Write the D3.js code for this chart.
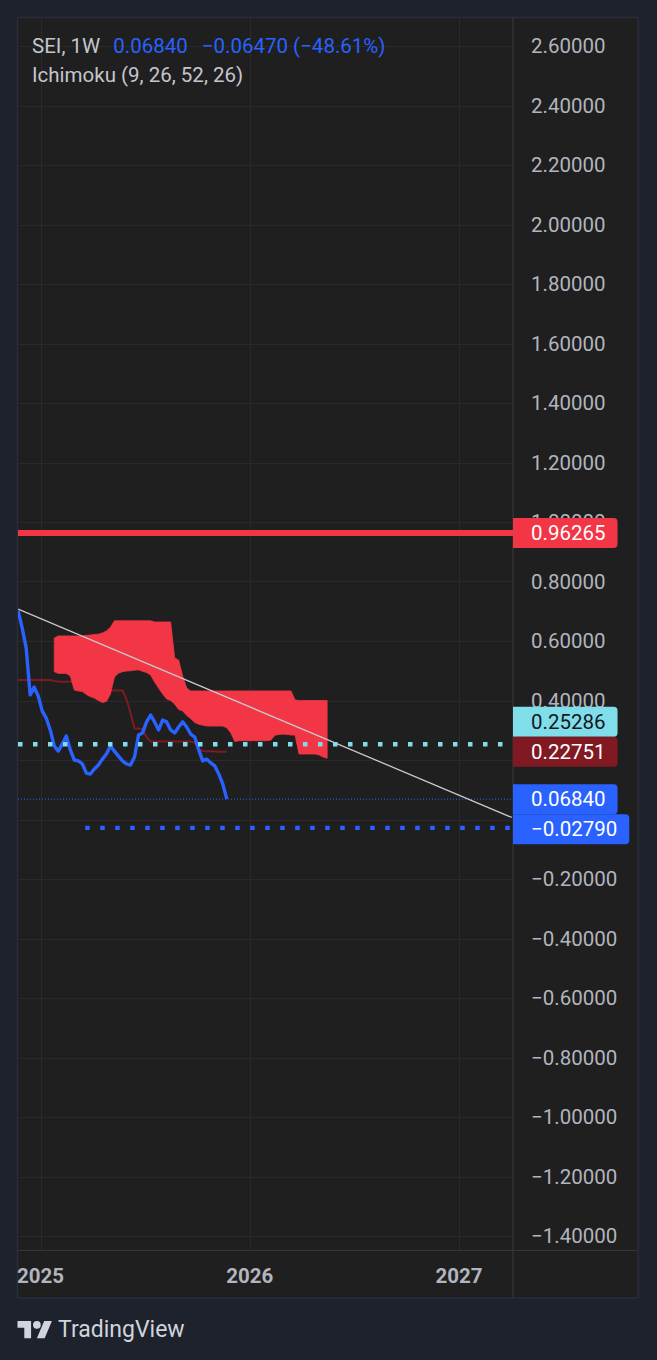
<!DOCTYPE html>
<html><head><meta charset="utf-8">
<script src="https://cdn.jsdelivr.net/npm/d3@7"></script>
<style>
html,body{margin:0;padding:0;background:#1e222d;}
svg{display:block;font-family:Roboto,"Noto Sans",sans-serif;}
</style>
</head><body>
<svg id="c" width="657" height="1360"></svg>
<script>
// ---------- DATA ----------
const startDate = "2024-11-23";           // first weekly bar
const priceValues = [0.701,0.644,0.577,0.419,0.445,0.415,0.365,0.341,0.301,0.247,
  0.230,0.254,0.281,0.234,0.200,0.197,0.187,0.156,0.153,0.170,
  0.183,0.203,0.220,0.247,0.230,0.213,0.197,0.187,0.183,0.210,
  0.284,0.291,0.328,0.351,0.328,0.301,0.334,0.328,0.301,0.291,
  0.311,0.328,0.311,0.287,0.277,0.234,0.197,0.203,0.190,0.180,
  0.153,0.119,0.0684];
const kijunValues = [0.469,0.469,0.469,0.469,0.469,0.469,0.469,0.469,0.469,0.466,
  0.463,0.463,0.463,0.463,0.463,0.463,0.463,0.463,0.463,0.463,
  0.463,0.434,0.434,0.434,0.434,0.434,0.434,0.405,0.358,0.306,
  0.306,0.304,0.277,0.262,0.262,0.262,0.262,0.262,0.262,0.262,
  0.262,0.262,0.262,0.262,0.258,0.2375,0.230,0.229,0.229,0.2285,
  0.228,0.228,0.22751];
const cloudStartWeek = 9;
const cloudTop = [0.610,0.617,0.617,0.617,0.617,0.617,0.617,0.617,0.619,0.620,
  0.622,0.623,0.627,0.634,0.646,0.668,0.668,0.668,0.668,0.668,
  0.668,0.668,0.668,0.668,0.668,0.664,0.664,0.664,0.664,0.664,
  0.543,0.536,0.482,0.442,0.432,0.432,0.432,0.432,0.432,0.432,
  0.432,0.432,0.432,0.432,0.432,0.432,0.432,0.432,0.432,0.432,
  0.432,0.432,0.432,0.432,0.432,0.432,0.432,0.432,0.432,0.432,
  0.402,0.400,0.400,0.400,0.400,0.400,0.400,0.400,0.400];
const cloudBottom = [0.497,0.491,0.491,0.491,0.482,0.435,0.432,0.430,0.420,0.413,
  0.408,0.400,0.393,0.397,0.422,0.479,0.492,0.497,0.499,0.500,
  0.502,0.503,0.498,0.494,0.486,0.462,0.442,0.422,0.405,0.400,
  0.388,0.370,0.365,0.350,0.339,0.326,0.320,0.317,0.314,0.314,
  0.314,0.314,0.314,0.308,0.291,0.262,0.265,0.265,0.265,0.265,
  0.265,0.265,0.265,0.265,0.267,0.283,0.286,0.287,0.286,0.284,
  0.284,0.220,0.220,0.220,0.220,0.220,0.217,0.210,0.206];
const yTicks = [2.6,2.4,2.2,2.0,1.8,1.6,1.4,1.2,1.0,0.8,0.6,0.4,0.2,0.0,
  -0.2,-0.4,-0.6,-0.8,-1.0,-1.2,-1.4];
const xTickLabels = ["2025","2026","2027"];
const xTickDates = ["2025-01-01","2026-01-01","2027-01-01"];
const trendLine = [["2024-11-23",0.707],["2027-04-03",0.007]];
const resistanceLevel = 0.96265;
const supportLevel = 0.25286;
const targetLevel = -0.0279;
const targetStart = "2025-03-20";
const headerSymbol = "SEI, 1W";
const headerLast = "0.06840";
const headerChange = "\u22120.06470 (\u221248.61%)";
const headerIndicator = "Ichimoku (9, 26, 52, 26)";

// ---------- LAYOUT ----------
const W = 657, H = 1360;
const panel = {x0:17.5, y0:17.5, x1:638, y1:1298};
const plot = {x0:18, y0:18, x1:513, y1:1250.5};
const C = {outer:"#1e222d", bg:"#1f1f1f", grid:"#2a2a2a", sep:"#363636", border:"#2a2e39",
  text:"#b2b5be", head:"#c3c6ce", blue:"#2962ff", red:"#f23645", cyan:"#80deea", dark:"#801922",
  trend:"#c8cad0"};

const parse = d3.utcParse("%Y-%m-%d");
const x = d3.scaleUtc().domain([parse(xTickDates[0]), parse(xTickDates[2])]).range([40.5, 459]);
const y = d3.scaleLinear().domain([2.6, -1.4]).range([46, 1236]);
const weekDate = i => d3.utcDay.offset(parse(startDate), 7*i);
const fmt = v => (v < 0 ? "\u2212" : "") + Math.abs(v).toFixed(5);

const svg = d3.select("#c");
svg.append("rect").attr("width",W).attr("height",H).attr("fill",C.outer);
svg.append("rect").attr("x",panel.x0).attr("y",panel.y0)
  .attr("width",panel.x1-panel.x0).attr("height",panel.y1-panel.y0)
  .attr("fill",C.bg).attr("stroke",C.border).attr("stroke-width",1.5);

const defs = svg.append("defs");
defs.append("clipPath").attr("id","pc").append("rect")
  .attr("x",plot.x0).attr("y",plot.y0).attr("width",plot.x1-plot.x0).attr("height",plot.y1-plot.y0);

// grid
const grid = svg.append("g").attr("clip-path","url(#pc)");
grid.selectAll("line.h").data(yTicks).join("line")
  .attr("x1",plot.x0).attr("x2",plot.x1)
  .attr("y1",d=>Math.round(y(d))+0.5).attr("y2",d=>Math.round(y(d))+0.5)
  .attr("stroke",C.grid).attr("stroke-width",1);
grid.selectAll("line.v").data(xTickDates).join("line")
  .attr("x1",d=>Math.round(x(parse(d)))+0.5).attr("x2",d=>Math.round(x(parse(d)))+0.5)
  .attr("y1",plot.y0).attr("y2",plot.y1)
  .attr("stroke",C.grid).attr("stroke-width",1);

// separators
svg.append("line").attr("x1",plot.x1).attr("x2",plot.x1).attr("y1",panel.y0).attr("y2",panel.y1)
  .attr("stroke",C.sep).attr("stroke-width",1.2);
svg.append("line").attr("x1",panel.x0).attr("x2",panel.x1).attr("y1",plot.y1).attr("y2",plot.y1)
  .attr("stroke",C.sep).attr("stroke-width",1.2);

const g = svg.append("g").attr("clip-path","url(#pc)");

// kijun (under cloud)
g.append("path").datum(kijunValues)
  .attr("d", d3.line().x((d,i)=>x(weekDate(i))).y(d=>y(d)))
  .attr("fill","none").attr("stroke",C.dark).attr("stroke-width",2);

// cloud
const cloud = cloudTop.map((t,k)=>({i:cloudStartWeek+k, t, b:cloudBottom[k]}));
g.append("path").datum(cloud)
  .attr("d", d3.area().x(d=>x(weekDate(d.i))).y0(d=>y(d.b)).y1(d=>y(d.t)))
  .attr("fill",C.red).attr("stroke",C.red).attr("stroke-width",0.8);

// price
g.append("path").datum(priceValues)
  .attr("d", d3.line().x((d,i)=>x(weekDate(i))).y(d=>y(d)))
  .attr("fill","none").attr("stroke",C.blue).attr("stroke-width",3.4).attr("stroke-linejoin","round");

// last price dotted line
const lastPrice = priceValues[priceValues.length-1];
g.append("line").attr("x1",plot.x0).attr("x2",plot.x1)
  .attr("y1",y(lastPrice)).attr("y2",y(lastPrice))
  .attr("stroke",C.blue).attr("stroke-width",1).attr("stroke-dasharray","1,2");

// trend line
g.append("path").datum(trendLine)
  .attr("d", d3.line().x(d=>x(parse(d[0]))).y(d=>y(d[1])))
  .attr("stroke",C.trend).attr("stroke-width",1.3).attr("fill","none");

// horizontal levels
g.append("line").attr("x1",plot.x0).attr("x2",plot.x1)
  .attr("y1",y(resistanceLevel)).attr("y2",y(resistanceLevel))
  .attr("stroke",C.red).attr("stroke-width",6);
g.append("line").attr("x1",plot.x0).attr("x2",plot.x1)
  .attr("y1",y(supportLevel)).attr("y2",y(supportLevel))
  .attr("stroke",C.cyan).attr("stroke-width",4.3).attr("stroke-dasharray","4.5,10.5");
g.append("line").attr("x1",x(parse(targetStart))).attr("x2",plot.x1)
  .attr("y1",y(targetLevel)).attr("y2",y(targetLevel))
  .attr("stroke",C.blue).attr("stroke-width",4.3).attr("stroke-dasharray","4.5,10.5");

// price labels (positions resolved before tick labels)
const FS = 20.5;
const labels = [
  {v:resistanceLevel, bg:C.red, fg:"#ffffff", fixed:true},
  {v:supportLevel, bg:C.cyan, fg:"#131722", fixed:false},
  {v:kijunValues[kijunValues.length-1], bg:C.dark, fg:"#ffffff", fixed:true},
  {v:lastPrice, bg:C.blue, fg:"#ffffff", fixed:true},
  {v:targetLevel, bg:C.blue, fg:"#ffffff", fixed:false}
];
const BH = 30;
labels.forEach(l=>{ l.y = y(l.v); });
labels.filter(l=>!l.fixed).forEach(l=>{
  labels.filter(f=>f.fixed).forEach(f=>{
    if (Math.abs(l.y - f.y) < BH) l.y = (y(l.v) < f.y) ? f.y - BH : f.y + BH;
  });
});

// y axis tick labels (hide ones hidden behind a label box)
const visibleTicks = yTicks.filter(t => labels.every(l => Math.abs(y(t) - l.y) >= 11));
svg.append("g").selectAll("text").data(visibleTicks).join("text")
  .attr("x",531).attr("y",d=>y(d)).attr("dy","0.35em")
  .attr("fill",C.text).attr("font-size",FS).text(d=>fmt(d));

// x axis labels
svg.append("g").selectAll("text").data(xTickDates).join("text")
  .attr("x",d=>x(parse(d))).attr("y",1283).attr("text-anchor","middle")
  .attr("fill",C.text).attr("font-size",FS).attr("font-weight","bold")
  .text((d,i)=>xTickLabels[i]);

const lg = svg.append("g");
labels.forEach(l=>{
  const t = lg.append("text").attr("x",531).attr("y",l.y).attr("dy","0.35em")
    .attr("fill",l.fg).attr("font-size",FS).text(fmt(l.v));
  const w = t.node().getComputedTextLength();
  const x0 = plot.x1, x1 = 531 + w + 12, y0 = l.y - BH/2, y1 = l.y + BH/2, r = 4;
  lg.insert("path", () => t.node())
    .attr("d",`M${x0},${y0}H${x1-r}Q${x1},${y0} ${x1},${y0+r}V${y1-r}Q${x1},${y1} ${x1-r},${y1}H${x0}Z`)
    .attr("fill",l.bg);
});

// header
const h1 = svg.append("text").attr("x",32).attr("y",53).attr("font-size",FS);
h1.append("tspan").attr("fill",C.head).text(headerSymbol);
h1.append("tspan").attr("fill",C.blue).attr("dx",13).text(headerLast);
h1.append("tspan").attr("fill",C.blue).attr("dx",14).text(headerChange);
svg.append("text").attr("x",32).attr("y",82).attr("font-size",FS)
  .attr("fill",C.head).text(headerIndicator);

// logo
const logo = svg.append("g").attr("transform","translate(17.5,1317) scale(0.97)").attr("fill","#d1d4dc");
logo.append("path").attr("d","M14 22H7V11H0V4h14v18zM28 22h-8l7.5-18h8L28 22z");
logo.append("circle").attr("cx",20).attr("cy",8).attr("r",4);
svg.append("text").attr("x",58).attr("y",1337).attr("font-size",23)
  .attr("fill","#d1d4dc").text("TradingView");
</script>
</body></html>
